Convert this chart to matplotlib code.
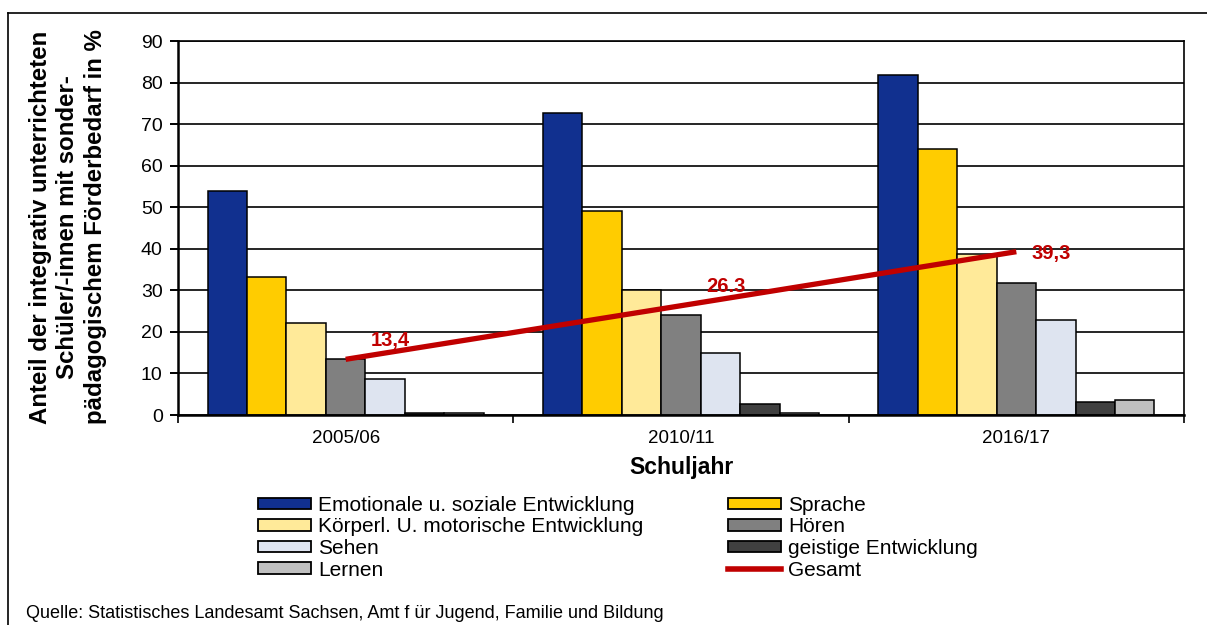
import matplotlib
matplotlib.use("Agg")
import matplotlib.pyplot as plt
import numpy as np
from matplotlib.patches import Patch
from matplotlib.lines import Line2D
from matplotlib.ticker import FixedLocator

# ---------------- data ----------------
years = ["2005/06", "2010/11", "2016/17"]
series_names = [
    "Emotionale u. soziale Entwicklung",
    "Sprache",
    "Körperl. U. motorische Entwicklung",
    "Hören",
    "Sehen",
    "geistige Entwicklung",
    "Lernen",
]
emotional = [53.8, 72.6, 81.8]
sprache = [33.2, 49.0, 63.9]
koerper = [22.1, 30.1, 38.7]
hoeren = [13.4, 24.0, 31.7]
sehen = [8.6, 14.9, 22.9]
geistig = [0.4, 2.7, 3.2]
lernen = [0.4, 0.5, 3.7]
gesamt = [13.4, 26.3, 39.3]
gesamt_labels = ["13,4", "26.3", "39,3"]
gesamt_name = "Gesamt"
yticks = [0, 10, 20, 30, 40, 50, 60, 70, 80, 90]
xlabel = "Schuljahr"
ylabel = ("Anteil der integrativ unterrichteten\n"
          "Schüler/-innen mit sonder-\n"
          "pädagogischem Förderbedarf in %")
source = "Quelle: Statistisches Landesamt Sachsen, Amt f ür Jugend, Familie und Bildung"

series_values = [emotional, sprache, koerper, hoeren, sehen, geistig, lernen]
colors = ["#11308F", "#FFCC00", "#FFEA99", "#808080", "#DEE4F0", "#404040", "#C0C0C0"]
red = "#C00000"

plt.rcParams["font.family"] = ["Liberation Sans", "DejaVu Sans"]

W, H = 1207, 625
fig = plt.figure(figsize=(W / 100, H / 100), dpi=100)
fig.patch.set_facecolor("white")

def px(x0, y0, x1, y1):
    return [x0 / W, 1 - y1 / H, (x1 - x0) / W, (y1 - y0) / H]

ax = fig.add_axes(px(178, 41, 1184, 415))

n = len(series_values)
w = 1 / 8.5
x = np.arange(len(years))
handles = []
for i, (vals, col, name) in enumerate(zip(series_values, colors, series_names)):
    ax.bar(x + (i - (n - 1) / 2) * w, vals, width=w, color=col,
           edgecolor="black", linewidth=1.1, zorder=3)
    handles.append(Patch(facecolor=col, edgecolor="black", linewidth=1.3, label=name))

ax.plot(x, gesamt, color=red, linewidth=3.8, solid_capstyle="butt", zorder=5)
offsets = [(45, 19), (45, 19), (35, -2)]
for xi, v, lab, off in zip(x, gesamt, gesamt_labels, offsets):
    ax.annotate(lab, (xi, v), xytext=off, textcoords="offset pixels",
                ha="center", va="center", color=red, fontsize=14.5,
                fontweight="bold", zorder=6)

ax.set_xlim(-0.5, len(years) - 0.5)
ax.set_ylim(0, 90)
ax.set_yticks(yticks)
ax.set_yticklabels([str(t) for t in yticks], fontsize=14)
ax.set_xticks(x)
ax.set_xticklabels(years, fontsize=13.5)
ax.xaxis.set_minor_locator(FixedLocator(np.arange(-0.5, len(years), 1.0)))
ax.tick_params(axis="x", which="major", length=0, pad=11)
ax.tick_params(axis="x", which="minor", length=6, width=1.2, direction="out")
ax.tick_params(axis="y", which="major", length=6, width=1.4, direction="out", pad=5)

ax.yaxis.grid(True, color="black", linewidth=1.2, zorder=0)
ax.set_axisbelow(True)
for s in ["left", "bottom"]:
    ax.spines[s].set_linewidth(1.8)
    ax.spines[s].set_zorder(6)
for s in ["right", "top"]:
    ax.spines[s].set_linewidth(1.2)

ax.set_xlabel(xlabel, fontsize=16.5, fontweight="bold", labelpad=6)

fig.text(68 / W, 1 - 227 / H, ylabel, rotation=90, ha="center", va="center",
         multialignment="center", fontsize=17.3, fontweight="bold", linespacing=1.25)

# legends (two columns placed explicitly)
gesamt_handle = Line2D([0], [0], color=red, linewidth=4, label=gesamt_name)
left_h = [handles[0], handles[2], handles[4], handles[6]]
right_h = [handles[1], handles[3], handles[5], gesamt_handle]
common = dict(frameon=False, fontsize=15, handlelength=2.55, handleheight=0.45,
              handletextpad=0.33, labelspacing=0.12, borderpad=0, borderaxespad=0,
              loc="upper left")
leg1 = fig.legend(handles=left_h, bbox_to_anchor=(258 / W, 1 - 496 / H), **common)
leg2 = fig.legend(handles=right_h, bbox_to_anchor=(728 / W, 1 - 496 / H), **common)

fig.text(26 / W, 1 - 613 / H, source, ha="left", va="center", fontsize=13)

# outer frame (left and top edges)
fig.add_artist(Line2D([8 / W, 8 / W], [0, 1 - 13 / H], color="black", linewidth=1.2,
                      transform=fig.transFigure))
fig.add_artist(Line2D([8 / W, 1], [1 - 13 / H, 1 - 13 / H], color="black", linewidth=1.2,
                      transform=fig.transFigure))

fig.savefig("out.png", dpi=100)
